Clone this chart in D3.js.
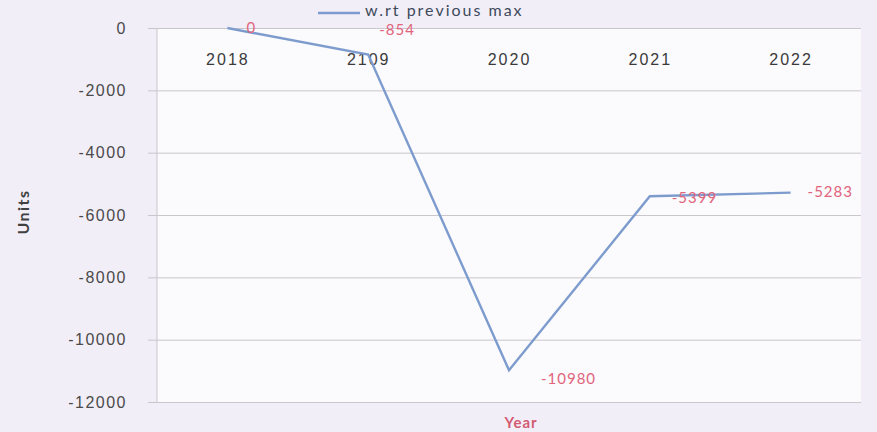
<!DOCTYPE html>
<html>
<head>
<meta charset="utf-8">
<script src="https://cdn.jsdelivr.net/npm/d3@7"></script>
<style>
  body { margin: 0; background: #f2eef8; }
  svg { display: block; font-family: Lato, "Open Sans", sans-serif; }
</style>
</head>
<body>
<div id="chart"></div>
<script>
// data
var years = ['2018', '2109', '2020', '2021', '2022'];
var units = [0, -854, -10980, -5399, -5283];
var yTicks = [0, -2000, -4000, -6000, -8000, -10000, -12000];
var seriesName = 'w.rt previous max';

var width = 877, height = 432;
var margin = { top: 28, right: 16, bottom: 30, left: 157 };
var innerW = width - margin.left - margin.right;
var innerH = height - margin.top - margin.bottom;

var svg = d3.select('#chart').append('svg')
    .attr('width', width)
    .attr('height', height);

svg.append('rect').attr('width', width).attr('height', height).attr('fill', '#f2eef8');

var g = svg.append('g')
    .attr('transform', 'translate(' + margin.left + ',' + margin.top + ')');

var xScale = d3.scalePoint().domain(years).range([0, innerW]).padding(0.5);
var yScale = d3.scaleLinear().domain([-12000, 0]).range([innerH, 0]);

g.append('rect').attr('width', innerW).attr('height', innerH).attr('fill', '#fbfafd');

// gridlines + y labels
var yAxis = g.append('g')
    .call(d3.axisLeft(yScale).tickValues(yTicks).tickSize(-innerW - 9)
        .tickFormat(function (d) { return String(d); }));
yAxis.select('.domain').remove();
yAxis.selectAll('.tick line')
    .attr('x1', -9)
    .attr('x2', innerW)
    .attr('stroke', '#c9c6cc');
yAxis.selectAll('.tick text')
    .attr('x', -30)
    .attr('fill', '#4a4a4a')
    .style('font-size', '16px')
    .style('letter-spacing', '1.5px');

g.append('line')
    .attr('x1', 0).attr('x2', 0)
    .attr('y1', 0).attr('y2', innerH)
    .attr('stroke', '#c9c6cc');

// category labels sit under the zero line
var xAxis = g.append('g')
    .attr('transform', 'translate(0,' + yScale(0) + ')')
    .call(d3.axisBottom(xScale).tickSize(0).tickPadding(26));
xAxis.select('.domain').remove();
xAxis.selectAll('.tick text')
    .attr('fill', '#3a3a3a')
    .style('font-size', '16px')
    .style('letter-spacing', '2px');

var line = d3.line()
    .x(function (d, i) { return xScale(years[i]); })
    .y(function (d) { return yScale(d); });

g.append('path')
    .datum(units)
    .attr('d', line)
    .attr('fill', 'none')
    .attr('stroke', '#7d9ccd')
    .attr('stroke-width', 2.4);

// label offsets per point
var offs = [[19, 5], [11, -20], [32, 14], [22, 7], [17, 4]];
g.selectAll('.lbl')
    .data(units)
    .enter().append('text')
    .attr('class', 'lbl')
    .attr('x', function (d, i) { return xScale(years[i]) + offs[i][0]; })
    .attr('y', function (d, i) { return yScale(d) + offs[i][1]; })
    .attr('fill', '#e0647c')
    .style('font-size', '15px')
    .style('letter-spacing', '1px')
    .text(function (d) { return d; });

// legend
svg.append('line')
    .attr('x1', 318).attr('x2', 360)
    .attr('y1', 13).attr('y2', 13)
    .attr('stroke', '#7d9ccd')
    .attr('stroke-width', 2.4);
svg.append('text')
    .attr('x', 365).attr('y', 16)
    .attr('fill', '#3d4a5a')
    .style('font-size', '16px')
    .style('letter-spacing', '2px')
    .text(seriesName);

// axis titles
svg.append('text')
    .attr('transform', 'translate(29,' + (margin.top + innerH / 2 - 3) + ') rotate(-90)')
    .attr('text-anchor', 'middle')
    .attr('fill', '#404040')
    .style('font-size', '16px')
    .style('font-weight', 'bold')
    .style('letter-spacing', '1.5px')
    .text('Units');
svg.append('text')
    .attr('x', 521).attr('y', 428)
    .attr('text-anchor', 'middle')
    .attr('fill', '#d25a72')
    .style('font-size', '15px')
    .style('font-weight', 'bold')
    .style('letter-spacing', '1px')
    .text('Year');
</script>
</body>
</html>
